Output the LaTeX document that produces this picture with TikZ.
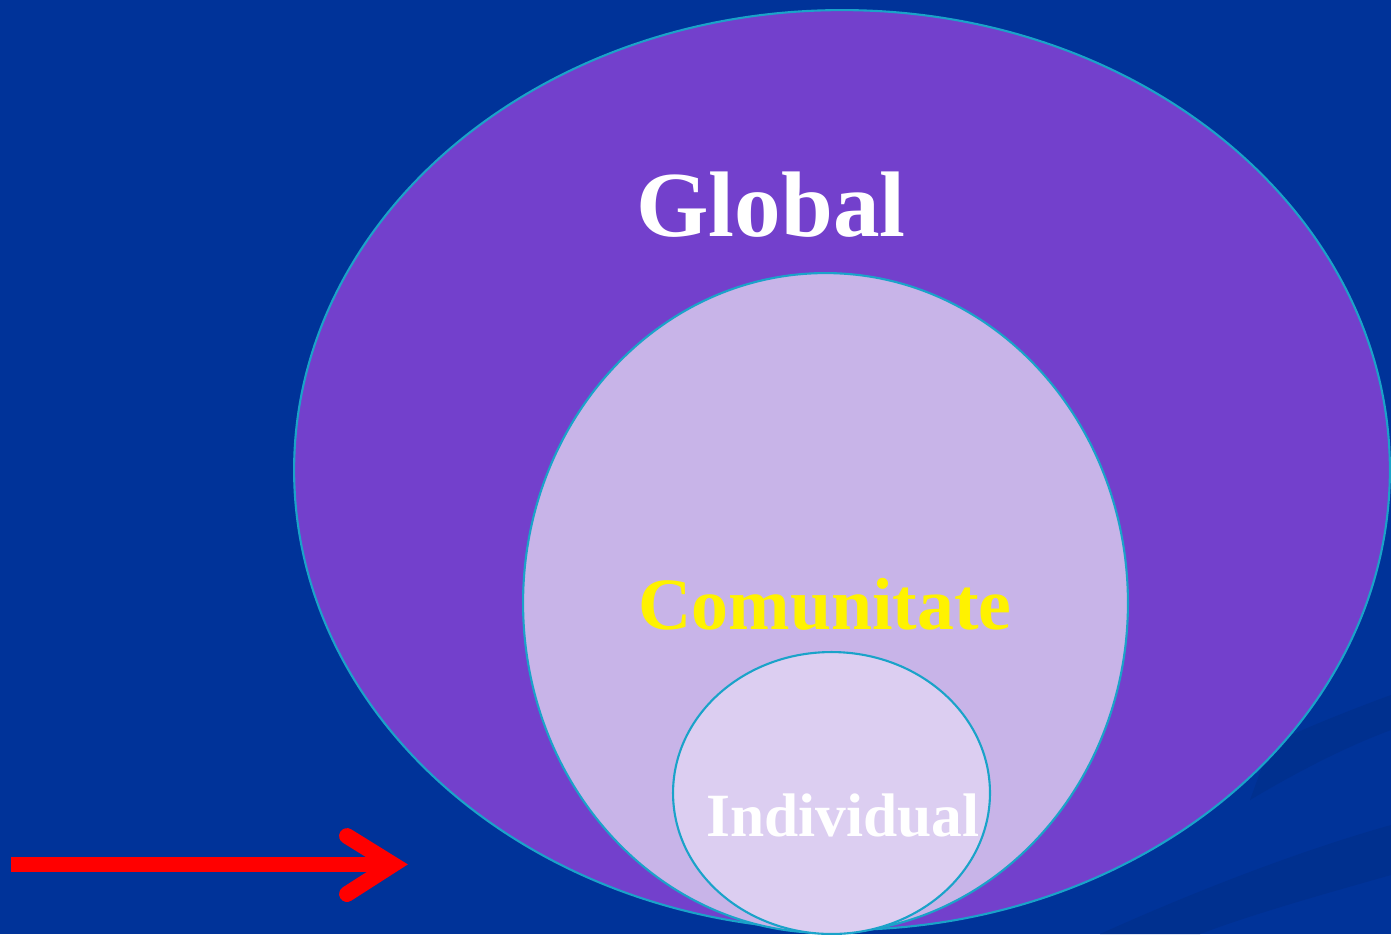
\documentclass[tikz,border=0pt]{standalone}
\usepackage{fontspec}
\setmainfont{Liberation Serif}
\usetikzlibrary{shapes.geometric}
\definecolor{slideBlue}{HTML}{003399}
\definecolor{bandBlue}{HTML}{00308F}
\definecolor{globalPurple}{HTML}{7340CC}
\definecolor{communityLilac}{HTML}{C8B4E8}
\definecolor{selfLilac}{HTML}{DCCEF1}
\definecolor{rimCyan}{HTML}{1AA3C9}
\definecolor{arrowRed}{HTML}{FF0000}

\begin{document}
\begin{tikzpicture}[x=0.02cm, y=-0.02cm,
    ring/.style={ellipse, draw=rimCyan, line width=1.2pt, inner sep=0pt},
    caption/.style={anchor=base, font=\bfseries},
    pointer/.style={arrowRed, line width=9pt},
  ]
  % slide background with two soft bands
  \fill[slideBlue] (0,0) rectangle (1391,934);
  \fill[bandBlue] (1100,934) .. controls (1220,880) and (1320,845) .. (1391,825)
    -- (1391,875) .. controls (1320,895) and (1250,915) .. (1200,934) -- cycle;
  \fill[bandBlue] (1250,800) .. controls (1300,770) and (1350,745) .. (1391,730)
    -- (1391,695) .. controls (1350,710) and (1300,730) .. (1270,745) -- cycle;
  \useasboundingbox (0,0) rectangle (1391,934);

  % nested circles
  \node[ring, fill=globalPurple, minimum width=21.92cm, minimum height=18.4cm]
    (global) at (842,470) {};
  \node[ring, fill=communityLilac, minimum width=12.1cm, minimum height=13.2cm]
    (community) at (825.5,603) {};
  \node[ring, fill=selfLilac, minimum width=6.34cm, minimum height=5.64cm]
    (self) at (831.5,793) {};

  \node[caption, white, font=\bfseries\fontsize{53}{60}\selectfont]
    (globalText) at (771,236) {Global};
  \node[caption, yellow, font=\bfseries\fontsize{42}{48}\selectfont]
    (communityText) at (825,629) {Comunitate};
  \node[caption, white, font=\bfseries\fontsize{35}{40}\selectfont]
    (selfText) at (843,836) {Individual};

  % red pointer
  \coordinate (tail) at (11,864.5);
  \coordinate (tip) at (393,864.5);
  \coordinate (barbUp) at (347,836);
  \coordinate (barbDown) at (347,894);
  \draw[pointer] (tail) -- (tip);
  \draw[pointer, line cap=round, line join=miter, miter limit=10]
    (barbUp) -- (tip) -- (barbDown);
\end{tikzpicture}
\end{document}
